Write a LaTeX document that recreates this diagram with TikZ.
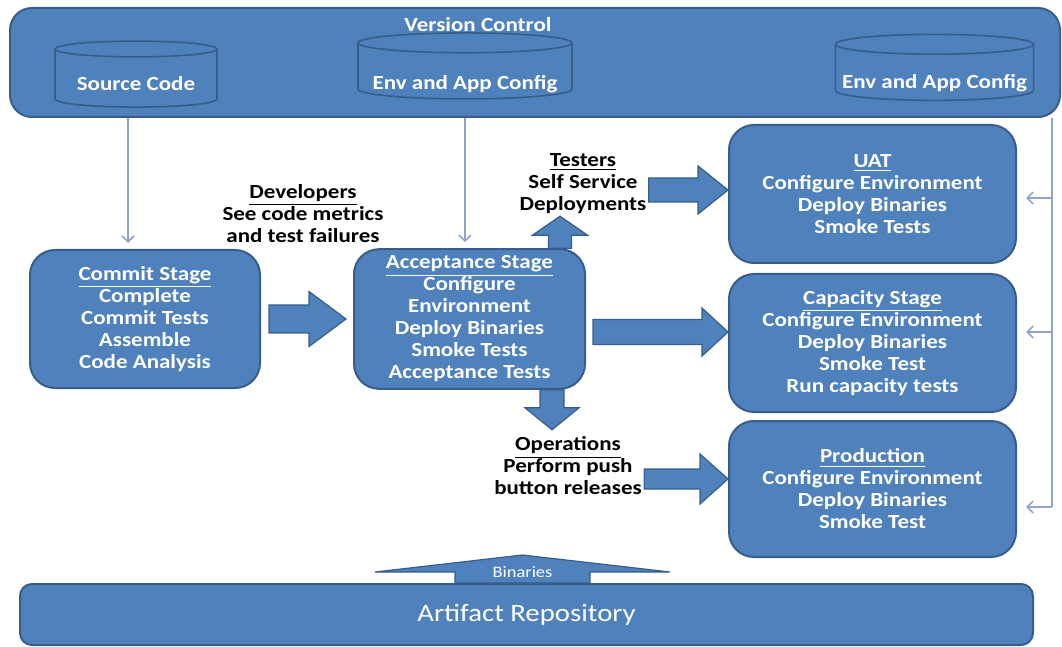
\documentclass[tikz,border=0pt]{standalone}
\usepackage{fontspec}
\usepackage{tikz}
\usetikzlibrary{arrows.meta, positioning, shapes.geometric, calc}
\newfontfamily\diafont[FakeStretch=1.15]{Carlito}
\definecolor{vcblue}{HTML}{4F81BD}
\definecolor{vcedge}{HTML}{385D8A}
\definecolor{vcline}{HTML}{8EA4CC}
\newcommand{\boxfont}{\diafont\bfseries\fontsize{10}{11}\selectfont}
\newcommand{\lowered}[2]{\raisebox{-#1}[\height][\depth]{#2}}
% block arrow: start, end, shaft half width, head half width, head length
\newcommand{\fatarrow}[5]{%
  \path #1 coordinate (fa-s) #2 coordinate (fa-e);
  \coordinate (fa-c) at ($(fa-e)!#5!(fa-s)$);
  \draw[fatshape] ($(fa-s)!#3!90:(fa-e)$) -- ($(fa-c)!#3!-90:(fa-s)$) -- ($(fa-c)!#4!-90:(fa-s)$)
    -- (fa-e) -- ($(fa-c)!#4!90:(fa-s)$) -- ($(fa-c)!#3!90:(fa-s)$) -- ($(fa-s)!#3!-90:(fa-e)$) -- cycle;}

\begin{document}
\begin{tikzpicture}[x=0.5pt, y=-0.5pt, node distance=4pt]
  \tikzset{stage/.style={rectangle, rounded corners=12.5pt, fill=vcblue, draw=vcedge, line width=1pt,
             text=white, font=\boxfont, align=center, minimum width=143.5pt, minimum height=69pt},
           repo/.style={cylinder, shape border rotate=90, fill=vcblue, draw=vcedge, line width=0.8pt,
             text=white, font=\boxfont, minimum height=33pt},
           lab/.style={font=\boxfont, align=center, inner sep=1pt},
           fatshape/.style={fill=vcblue, draw=vcedge, line width=0.6pt, line join=miter},
           vline/.style={draw=vcline, line width=0.8pt, -{Straight Barb[length=3pt,width=6pt]}}}
  \useasboundingbox (0,0) rectangle (1062,647);
  % version control
  \node[rectangle, rounded corners=11pt, fill=vcblue, draw=vcedge, line width=1pt,
        minimum width=525pt, minimum height=54.5pt] (vc) at (535,62.5) {};
  \node[lab, text=white] (vct) at (478,25) {Version Control};
  \node[repo, minimum width=81pt, aspect=0.12] (src) at (136,80) {\lowered{2pt}{Source Code}};
  \node[repo, minimum width=107pt, aspect=0.1] (cfg1) at (465,73) {\lowered{5.5pt}{Env and App Config}};
  \node[repo, minimum width=97.5pt, aspect=0.1] (cfg2) at (934.5,74.5) {\lowered{4.5pt}{Env and App Config}};
  % stages
  \node[stage, minimum width=115pt] (cs) at (145,319)
    {\underline{Commit Stage}\\Complete\\Commit Tests\\Assemble\\Code Analysis};
  \node[stage, minimum width=115.5pt, minimum height=67.5pt, right=46pt of cs] (as)
    {\underline{Acceptance Stage}\\Configure\\Environment\\Deploy Binaries\\Smoke Tests\\Acceptance Tests};
  \node[stage] (uat) at (872.5,194)
    {\underline{UAT}\\Configure Environment\\Deploy Binaries\\Smoke Tests};
  \node[stage, below=4.5pt of uat] (cap)
    {\underline{Capacity Stage}\\Configure Environment\\Deploy Binaries\\Smoke Test\\Run capacity tests};
  \node[stage, minimum height=68pt, below=3.5pt of cap] (prd)
    {\underline{Production}\\Configure Environment\\Deploy Binaries\\Smoke Test};
  \node[rectangle, rounded corners=6pt, fill=vcblue, draw=vcedge, line width=1pt, text=white,
        font=\diafont\fontsize{12.5}{14}\selectfont, minimum width=506.5pt, minimum height=30.5pt]
        (ar) at (526.5,614.5) {Artifact Repository};
  % people
  \node[lab] (dev) at (303,214) {\underline{Developers}\\See code metrics\\and test failures};
  \node[lab] (tst) at (583,184) {\underline{Testers}\\Self Service\\Deployments};
  \node[lab] (ops) at (568,466) {\underline{Operations}\\Perform push\\button releases};
  % version control feeds
  \coordinate[xshift=-8.5pt] (src-in) at (cs.north);
  \coordinate[xshift=-2.25pt] (cfg-in) at (as.north);
  \draw[vline] (src-in |- vc.south) -- ([yshift=3pt]src-in);
  \draw[vline] (cfg-in |- vc.south) -- ([yshift=3pt]cfg-in);
  \coordinate (rail) at ([xshift=-4.5pt]vc.south east);
  \coordinate[xshift=4.5pt, yshift=-2pt] (uat-r) at (uat.east);
  \coordinate[xshift=4.5pt, yshift=5.5pt] (cap-r) at (cap.east);
  \coordinate[xshift=4.5pt, yshift=-9pt] (prd-r) at (prd.east);
  \draw[draw=vcline, line width=0.8pt] (rail) -- (rail |- prd-r);
  \draw[vline] (rail |- uat-r) -- (uat-r);
  \draw[vline] (rail |- cap-r) -- (cap-r);
  \draw[vline] (rail |- prd-r) -- (prd-r);
  % block arrows
  \coordinate[xshift=4pt] (d-s) at (cs.east);
  \coordinate[xshift=-3.5pt] (d-e) at (as.west |- d-s);
  \fatarrow{(d-s)}{(d-e)}{7pt}{13.75pt}{18.5pt}
  \coordinate[yshift=2pt] (t-e) at (uat.west);
  \coordinate (t-s) at (tst.east |- t-e);
  \fatarrow{(t-s)}{(t-e)}{6pt}{12pt}{15pt}
  \coordinate[yshift=5.5pt] (c-e) at (cap.west);
  \coordinate[xshift=3.5pt] (c-s) at (as.east |- c-e);
  \fatarrow{(c-s)}{(c-e)}{6.25pt}{12pt}{13pt}
  \coordinate[yshift=5pt] (o-e) at (prd.west);
  \coordinate (o-s) at (ops.east |- o-e);
  \fatarrow{(o-s)}{(o-e)}{5pt}{12.5pt}{14pt}
  \coordinate[xshift=45.25pt] (up-s) at (as.north);
  \coordinate[yshift=16pt] (up-e) at (up-s);
  \fatarrow{(up-s)}{(up-e)}{5.75pt}{13.75pt}{9.5pt}
  \coordinate[xshift=41.25pt] (dn-s) at (as.south);
  \coordinate[yshift=-20pt] (dn-e) at (dn-s);
  \fatarrow{(dn-s)}{(dn-e)}{6pt}{13.5pt}{11pt}
  \coordinate[xshift=-2pt] (bin-s) at (ar.north);
  \coordinate[yshift=14pt] (bin-e) at (bin-s);
  \fatarrow{(bin-s)}{(bin-e)}{33.75pt}{73.75pt}{8.5pt}
  \node[text=white, font=\diafont\fontsize{8}{9}\selectfont, inner sep=0pt] (bin) at ([yshift=5.5pt]bin-s) {Binaries};
\end{tikzpicture}
\end{document}
